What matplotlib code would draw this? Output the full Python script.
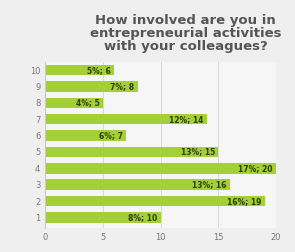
import numpy as np
import matplotlib.pyplot as plt

# survey answers, scale 1..10
levels = [1, 2, 3, 4, 5, 6, 7, 8, 9, 10]
counts = [10, 19, 16, 20, 15, 7, 14, 5, 8, 6]
percents = [8, 16, 13, 17, 13, 6, 12, 4, 7, 5]
xticks = [0, 5, 10, 15, 20]

fig = plt.figure(figsize=(2.95, 2.52), dpi=100)
fig.patch.set_facecolor('#efefef')

ax = fig.add_axes([0.153, 0.095, 0.783, 0.659])
ax.set_facecolor('#f6f6f6')

ax.barh(levels, counts, height=0.64, color='#a2d036', zorder=2)

for y, c, p in zip(levels, counts, percents):
    ax.text(c - 0.3, y, f'{p}%; {c}', ha='right', va='center',
            fontsize=5.5, fontweight='bold', color='#2f3a10', zorder=3)

ax.set_xlim(0, 20)
ax.set_ylim(0.35, 10.5)
ax.set_xticks(xticks)
ax.set_yticks(levels)
ax.tick_params(axis='both', labelsize=6, colors='#777777', length=0)
ax.xaxis.grid(True, color='#d8d8d8', linewidth=0.7, zorder=0)
for s in ['top', 'right', 'bottom']:
    ax.spines[s].set_visible(False)
ax.spines['left'].set_color('#c8c8d8')

fig.text(0.63, 0.945, 'How involved are you in\nentrepreneurial activities\nwith your colleagues?',
         ha='center', va='top', fontsize=9.5, fontweight='bold', color='#555555',
         linespacing=1.0)

plt.savefig('out.png', dpi=100, facecolor=fig.get_facecolor())
